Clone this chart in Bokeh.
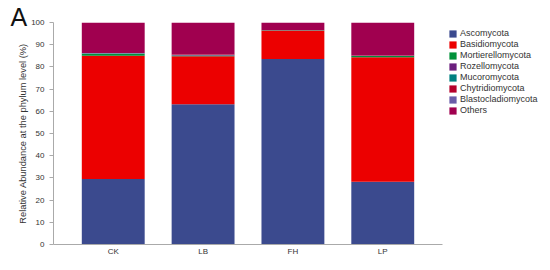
from bokeh.plotting import figure
from bokeh.models import FactorRange, Range1d, Legend, LegendItem, ColumnDataSource
from bokeh.embed import file_html
from bokeh.resources import INLINE

samples = ["CK", "LB", "FH", "LP"]
phyla = ["Ascomycota", "Basidiomycota", "Mortierellomycota", "Rozellomycota",
         "Mucoromycota", "Chytridiomycota", "Blastocladiomycota", "Others"]
colors = ["#3b4a8e", "#ec0000", "#00913a", "#6b1f7d",
          "#008080", "#b5002a", "#6a5ca8", "#a0004f"]

Ascomycota = [29.5, 63.2, 83.6, 28.3]
Basidiomycota = [55.5, 21.6, 12.7, 56.1]
Mortierellomycota = [0.9, 0.2, 0.1, 0.5]
Rozellomycota = [0.1, 0.3, 0.05, 0.1]
Mucoromycota = [0.1, 0.05, 0.05, 0.05]
Chytridiomycota = [0.1, 0.2, 0.1, 0.1]
Blastocladiomycota = [0.05, 0.05, 0.02, 0.02]
Others = [13.75, 14.4, 3.38, 14.83]

yticks = [0, 10, 20, 30, 40, 50, 60, 70, 80, 90, 100]

data = dict(sample=samples, Ascomycota=Ascomycota, Basidiomycota=Basidiomycota,
            Mortierellomycota=Mortierellomycota, Rozellomycota=Rozellomycota,
            Mucoromycota=Mucoromycota, Chytridiomycota=Chytridiomycota,
            Blastocladiomycota=Blastocladiomycota, Others=Others)
src = ColumnDataSource(data)

FONT = "Liberation Sans"

p = figure(x_range=FactorRange(factors=samples, range_padding=0.165, range_padding_units="absolute"),
           y_range=Range1d(0, 100),
           frame_width=389, frame_height=222,
           output_backend="svg", toolbar_location=None,
           min_border_left=53, min_border_top=22, min_border_bottom=14, min_border_right=0)

rs = p.vbar_stack(phyla, x="sample", width=0.7, source=src, color=colors, line_color=None)

items = [LegendItem(label=name, renderers=[r]) for name, r in zip(phyla, rs)]
legend = Legend(items=items, location="top_left", margin=6, padding=0,
                border_line_color=None, background_fill_alpha=0,
                glyph_width=9, glyph_height=9, label_height=10, spacing=1,
                label_standoff=3, label_text_font=FONT, label_text_font_size="9px",
                label_text_color="#333333")
p.add_layout(legend, "right")

p.xgrid.grid_line_color = None
p.ygrid.grid_line_color = None
p.outline_line_color = None

p.yaxis.ticker = yticks
p.yaxis.axis_label = "Relative Abundance at the phylum level (%)"
p.yaxis.axis_label_text_font = FONT
p.yaxis.axis_label_text_font_size = "9.3px"
p.yaxis.axis_label_text_font_style = "normal"
p.yaxis.axis_label_text_color = "#333333"
p.yaxis.axis_label_standoff = 0
p.yaxis.major_label_text_font = FONT
p.yaxis.major_label_text_font_size = "8px"
p.yaxis.major_label_text_color = "#333333"
p.yaxis.major_label_standoff = 5
p.yaxis.major_tick_out = 4
p.yaxis.major_tick_in = 0
p.yaxis.minor_tick_out = 0
p.yaxis.minor_tick_in = 0
p.yaxis.axis_line_color = "#aaaaaa"
p.yaxis.major_tick_line_color = "#aaaaaa"

p.xaxis.major_tick_out = 0
p.xaxis.major_tick_in = 0
p.xaxis.axis_line_color = "#aaaaaa"
p.xaxis.major_label_text_font = FONT
p.xaxis.major_label_text_font_size = "8px"
p.xaxis.major_label_text_color = "#333333"
p.xaxis.major_label_standoff = 2

p.title.text = "A"
p.title.text_font = FONT
p.title.text_font_size = "25px"
p.title.text_font_style = "normal"
p.title.text_color = "#111111"
p.title.align = "left"
p.title.offset = -43
p.title.standoff = -17

open("out.html", "w").write(file_html(p, INLINE))
